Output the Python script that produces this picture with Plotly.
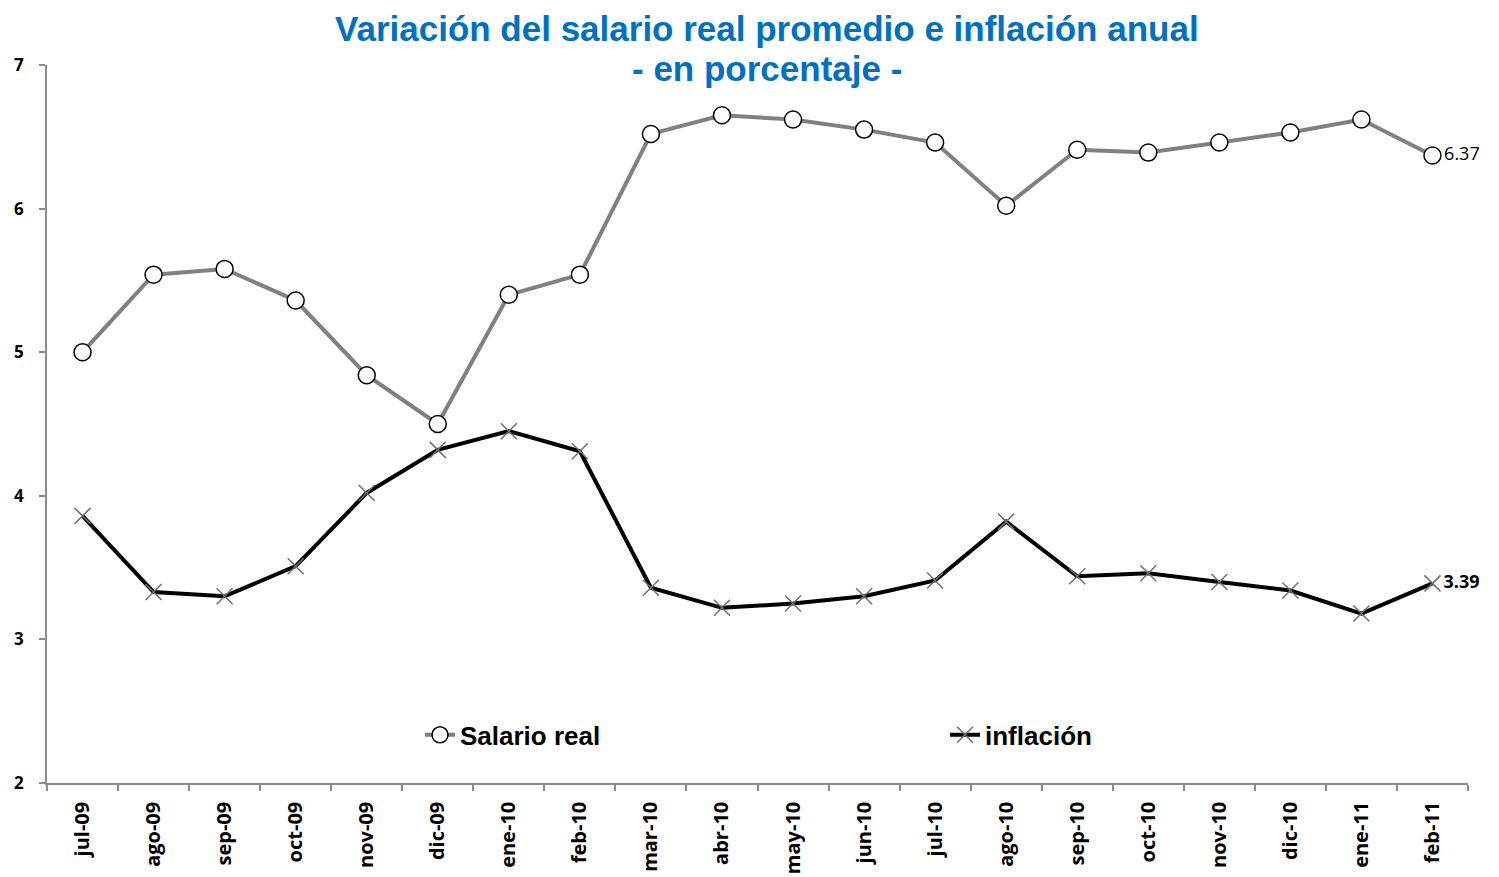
import plotly.graph_objects as go

categories = ["jul-09", "ago-09", "sep-09", "oct-09", "nov-09", "dic-09", "ene-10", "feb-10",
              "mar-10", "abr-10", "may-10", "jun-10", "jul-10", "ago-10", "sep-10", "oct-10",
              "nov-10", "dic-10", "ene-11", "feb-11"]
salario_real = [5.00, 5.54, 5.58, 5.36, 4.84, 4.50, 5.40, 5.54, 6.52, 6.65, 6.62, 6.55, 6.46,
                6.02, 6.41, 6.39, 6.46, 6.53, 6.62, 6.37]
inflacion = [3.86, 3.33, 3.30, 3.51, 4.02, 4.32, 4.45, 4.31, 3.36, 3.22, 3.25, 3.30, 3.41,
             3.82, 3.44, 3.46, 3.40, 3.34, 3.18, 3.39]
y_ticks = [2, 3, 4, 5, 6, 7]

fig = go.Figure()
fig.add_trace(go.Scatter(
    x=categories, y=salario_real, name="<b>Salario real</b>", mode="lines+markers+text",
    line=dict(color="#808080", width=4),
    marker=dict(symbol="circle", size=17, color="white", line=dict(color="black", width=1.5)),
    text=[""] * (len(categories) - 1) + [f"{salario_real[-1]:.2f}"],
    textposition="middle right",
    textfont=dict(family="Open Sans", size=18, color="black"),
    cliponaxis=False,
))
fig.add_trace(go.Scatter(
    x=categories, y=inflacion, name="<b>inflación</b>", mode="lines+markers+text",
    line=dict(color="black", width=4),
    marker=dict(symbol="x-thin-open", size=16, color="#707070", line=dict(color="#707070", width=1.5)),
    text=[""] * (len(categories) - 1) + [f"<b>{inflacion[-1]:.2f}</b>"],
    textposition="middle right",
    textfont=dict(family="Open Sans", size=18, color="black"),
    cliponaxis=False,
))

title_font = dict(family="Liberation Sans", size=35, color="#0070C0")
fig.add_annotation(text="<b>Variación del salario real promedio e inflación anual</b>",
                   xref="paper", yref="paper", x=0.5067, y=1.0515, xanchor="center", yanchor="middle",
                   showarrow=False, font=title_font)
fig.add_annotation(text="<b>- en porcentaje -</b>",
                   xref="paper", yref="paper", x=0.5067, y=0.9958, xanchor="center", yanchor="middle",
                   showarrow=False, font=title_font)

fig.update_layout(
    width=1491, height=869,
    margin=dict(l=39, r=31, t=57, b=94),
    paper_bgcolor="white", plot_bgcolor="white",
    showlegend=True,
    legend=dict(
        orientation="h", x=0.2625, xanchor="left", y=0.067, yanchor="middle",
        font=dict(family="Liberation Sans", size=26, color="black"),
        entrywidth=480, bgcolor="rgba(0,0,0,0)",
    ),
    xaxis=dict(
        type="category", range=[-0.5, 19.5], showgrid=False, automargin=False,
        showline=True, linecolor="#8c8c8c", linewidth=1.5,
        ticks="outside", tickson="boundaries", ticklen=6, tickcolor="#8c8c8c", tickwidth=1.5,
        tickangle=-90, ticklabelstandoff=9,
        tickfont=dict(family="Open Sans", size=20, color="black", weight="bold"),
    ),
    yaxis=dict(
        range=[2, 7], tickvals=y_ticks, showgrid=False, zeroline=False, automargin=False,
        showline=True, linecolor="#8c8c8c", linewidth=1.5,
        ticks="outside", ticklen=6, tickcolor="#8c8c8c", tickwidth=1.5,
        ticklabelstandoff=12,
        tickfont=dict(family="Open Sans", size=17, color="black", weight="bold"),
    ),
)

fig.write_html("out.html")
